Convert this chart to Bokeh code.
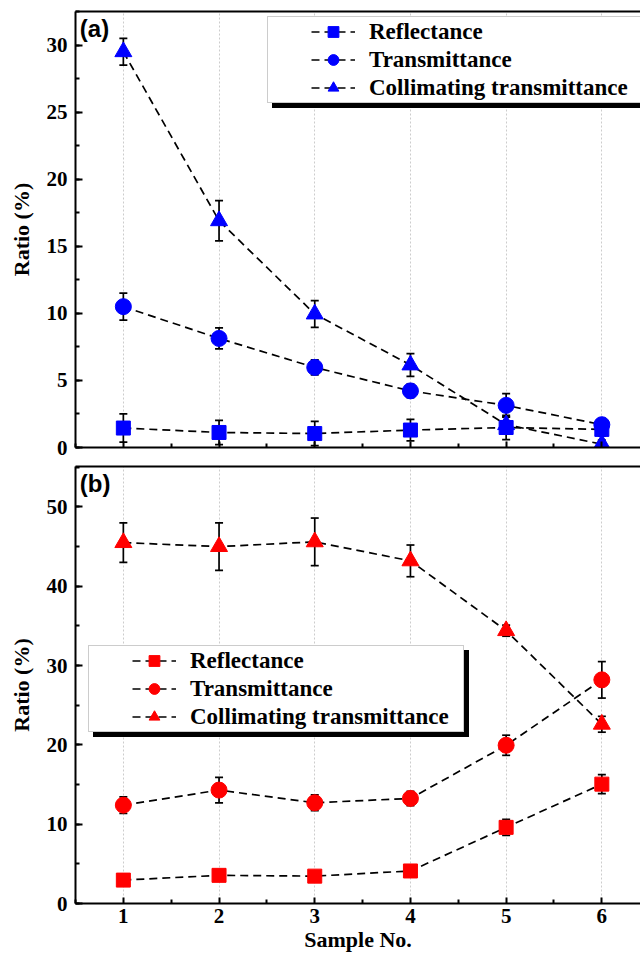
from bokeh.plotting import figure
from bokeh.models import (ColumnDataSource, Whisker, TeeHead, Legend, LegendItem, LinearAxis,
                          FixedTicker, SingleIntervalTicker, Range1d, Label)
from bokeh.layouts import column
from bokeh.embed import file_html
from bokeh.resources import INLINE

# ---------------- data ----------------
samples = [1, 2, 3, 4, 5, 6]
series_names = ["Reflectance", "Transmittance", "Collimating transmittance"]

a_reflectance = [1.45, 1.12, 1.04, 1.30, 1.49, 1.35]
a_reflectance_err = [1.05, 0.90, 0.90, 0.80, 0.90, 0.50]
a_transmittance = [10.5, 8.13, 5.97, 4.22, 3.14, 1.70]
a_transmittance_err = [1.00, 0.78, 0.56, 0.50, 0.88, 0.45]
a_collimating = [29.5, 16.9, 9.95, 6.15, 1.70, 0.25]
a_collimating_err = [1.00, 1.50, 1.00, 0.85, 0.60, 0.30]

b_reflectance = [2.95, 3.55, 3.45, 4.10, 9.60, 15.05]
b_reflectance_err = [0.70, 0.60, 0.60, 0.70, 1.00, 1.20]
b_transmittance = [12.4, 14.3, 12.7, 13.25, 19.95, 28.2]
b_transmittance_err = [1.05, 1.60, 1.00, 0.90, 1.27, 2.30]
b_collimating = [45.5, 45.0, 45.6, 43.2, 34.4, 22.6]
b_collimating_err = [2.50, 3.00, 3.00, 2.00, 0.70, 1.00]

x_ticks = [1, 2, 3, 4, 5, 6]
x_minor_ticks = [0.5, 1.5, 2.5, 3.5, 4.5, 5.5]

SERIF = "Liberation Serif"
SANS = "Liberation Sans"
markers = ["square", "circle", "triangle"]
marker_sizes = [14, 16, 17]


def make_panel(height, y_end, y_interval, border_top, border_bottom, show_xlabels,
               color, data, errs, tag, legend_loc, label_width):
    p = figure(width=640, height=height, output_backend="svg", toolbar_location=None,
               x_range=Range1d(0.5, 6.404), y_range=Range1d(0, y_end),
               min_border_left=75, min_border_right=0, min_border_top=border_top,
               min_border_bottom=border_bottom, outline_line_color=None,
               background_fill_color="white", border_fill_color="white")
    # axes
    xa = p.xaxis[0]
    xa.ticker = FixedTicker(ticks=x_ticks, minor_ticks=x_minor_ticks)
    xa.axis_line_width = 2
    xa.major_tick_in = 6
    xa.major_tick_out = 0
    xa.minor_tick_in = 4
    xa.minor_tick_out = 0
    xa.major_tick_line_width = 2
    xa.minor_tick_line_width = 2
    if show_xlabels:
        xa.major_label_text_font = SERIF
        xa.major_label_text_font_style = "bold"
        xa.major_label_text_font_size = "21px"
        xa.major_label_text_color = "black"
        xa.major_label_standoff = 5
        xa.axis_label = "Sample No."
        xa.axis_label_text_font = SERIF
        xa.axis_label_text_font_style = "bold"
        xa.axis_label_text_font_size = "22px"
        xa.axis_label_text_color = "black"
        xa.axis_label_standoff = 1
    else:
        xa.major_label_text_font_size = "0px"
        xa.major_label_text_color = None
        xa.major_label_standoff = 0

    ya = p.yaxis[0]
    ya.ticker = SingleIntervalTicker(interval=y_interval, num_minor_ticks=2)
    ya.axis_line_width = 2
    ya.major_tick_in = 7
    ya.major_tick_out = 0
    ya.minor_tick_in = 4
    ya.minor_tick_out = 0
    ya.major_tick_line_width = 2
    ya.minor_tick_line_width = 2
    ya.major_label_text_font = SERIF
    ya.major_label_text_font_style = "bold"
    ya.major_label_text_font_size = "21px"
    ya.major_label_text_color = "black"
    ya.major_label_standoff = 8
    ya.axis_label = "Ratio (%)"
    ya.axis_label_text_font = SERIF
    ya.axis_label_text_font_style = "bold"
    ya.axis_label_text_font_size = "22px"
    ya.axis_label_text_color = "black"
    ya.axis_label_standoff = 10

    top = LinearAxis(ticker=FixedTicker(ticks=[]), major_label_text_font_size="0px",
                     major_label_text_color=None,
                     major_tick_in=0, major_tick_out=0, minor_tick_in=0, minor_tick_out=0,
                     major_label_standoff=0, axis_line_width=2)
    p.add_layout(top, "above")

    p.ygrid.visible = False
    p.xgrid.grid_line_color = "#cccccc"
    p.xgrid.grid_line_dash = "2 2"
    p.xgrid.grid_line_width = 1

    items = []
    dummy_items = []
    for i, (vals, err) in enumerate(zip(data, errs)):
        src = ColumnDataSource(dict(x=samples, y=vals,
                                    upper=[v + e for v, e in zip(vals, err)],
                                    lower=[v - e for v, e in zip(vals, err)]))
        lr = p.line("x", "y", source=src, line_color="black", line_width=1.7,
                    line_dash="8 5")
        w = Whisker(base="x", upper="upper", lower="lower", source=src,
                    line_color="black", line_width=1.7, level="underlay",
                    upper_head=TeeHead(size=8, line_width=1.7, line_color="black"),
                    lower_head=TeeHead(size=8, line_width=1.7, line_color="black"))
        p.add_layout(w)
        sr = p.scatter("x", "y", source=src, marker=markers[i], size=marker_sizes[i],
                       fill_color=color, line_color=color)
        items.append(LegendItem(label=series_names[i], renderers=[lr, sr]))
        d = p.scatter(x=[], y=[], marker=markers[i], fill_alpha=0, line_alpha=0)
        dummy_items.append(LegendItem(label="", renderers=[d]))

    common = dict(glyph_width=44, glyph_height=27, label_height=27, label_width=label_width,
                  label_standoff=14, spacing=1, padding=1, title=" ", title_location="left",
                  title_text_font_size="30px", title_standoff=8, title_text_color=None,
                  label_text_font=SERIF, label_text_font_size="23px",
                  label_text_font_style="bold", border_line_width=1)
    shadow = Legend(items=dummy_items, location=(legend_loc[0] + 5, legend_loc[1] - 5),
                    background_fill_color="black", background_fill_alpha=1.0,
                    border_line_color="black", label_text_color=None, **common)
    main = Legend(items=items, location=legend_loc, background_fill_color="white",
                  background_fill_alpha=1.0, border_line_color="#999999",
                  label_text_color="black", **common)
    p.add_layout(shadow)
    p.add_layout(main)

    p.add_layout(Label(x=0.545, y=y_end * 0.9915, text=tag, text_font=SANS,
                       text_font_style="bold", text_font_size="24px", text_color="black",
                       text_baseline="top", text_align="left"))
    return p


pa = make_panel(458, 32.5, 5, 11, 11, False, "#0000FF",
                [a_reflectance, a_transmittance, a_collimating],
                [a_reflectance_err, a_transmittance_err, a_collimating_err],
                "(a)", (192, 344), 290)
pb = make_panel(499, 55.1, 10, 8, 54, True, "#FF0000",
                [b_reflectance, b_transmittance, b_collimating],
                [b_reflectance_err, b_transmittance_err, b_collimating_err],
                "(b)", (13, 171), 272)

layout = column(pa, pb, spacing=0)
open("out.html", "w").write(file_html(layout, INLINE))
